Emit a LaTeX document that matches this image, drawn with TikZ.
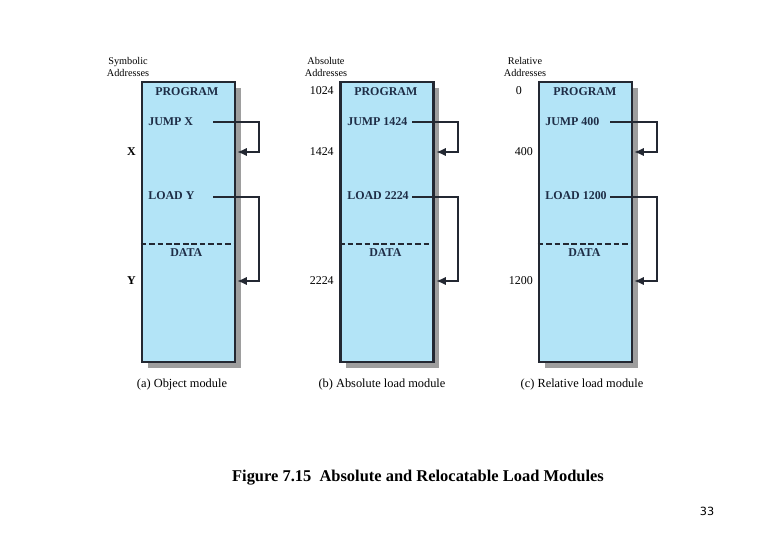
\documentclass[tikz,border=0pt]{standalone}
\usepackage{fontspec}
\setmainfont{Liberation Serif}
\newfontfamily\pagefont{DejaVu Sans}
\usetikzlibrary{shadows,arrows.meta}
\definecolor{modfill}{RGB}{179,228,247}
\definecolor{modline}{RGB}{35,40,50}
\definecolor{modtext}{RGB}{30,45,70}
\begin{document}
\begin{tikzpicture}[x=0.025cm,y=-0.025cm]
        \tikzstyle{module}=[draw=modline, line width=1.8pt, fill=modfill, minimum width=2.325cm, minimum height=7cm, inner sep=0pt,
            drop shadow={opacity=1, fill=black!38, shadow xshift=0.14cm, shadow yshift=-0.14cm}]
        \tikzstyle{instr}=[anchor=west, inner sep=0pt, text=modtext, font=\fontsize{8.5}{10}\selectfont\bfseries]
        \tikzstyle{addr}=[anchor=east, inner sep=0pt, font=\fontsize{8.5}{10}\selectfont]
        \tikzstyle{head}=[align=center, inner sep=0pt, font=\fontsize{7.3}{8}\selectfont]
        \tikzstyle{capt}=[inner sep=0pt, font=\fontsize{8.8}{10}\selectfont]
        \tikzstyle{jump}=[line width=1.4pt, draw=modline, -{Latex[length=7pt,width=6pt]}]
        \tikzstyle{split}=[dash pattern=on 4pt off 2pt, line width=1.1pt, draw=modline]

        \useasboundingbox (0,0) rectangle (780,540);

        % (a) object module
        \node[head] (ha) at (128,67) {Symbolic\\Addresses};
        \node[module] (ma) at (188.5,222) {};
        \node[instr] (pa) at (155,92) {PROGRAM};
        \node[instr] (ja) at (148,122) {JUMP X};
        \node[instr] (la) at (148,196) {LOAD Y};
        \node[instr] (da) at (170,253) {DATA};
        \node[addr, font=\fontsize{8.5}{10}\selectfont\bfseries] (xa) at (136,152) {X};
        \node[addr, font=\fontsize{8.5}{10}\selectfont\bfseries] (ya) at (136,281) {Y};
        \node[capt] (ca) at (182,385) {(a) Object module};
        \coordinate (sja) at (213,122);
        \coordinate (rja) at (259,152);
        \coordinate (tja) at (237,152);
        \coordinate (sla) at (213,197);
        \coordinate (rla) at (259,281);
        \coordinate (tla) at (237,281);
        \draw[jump] (sja) -| (rja) -- (tja);
        \draw[jump] (sla) -| (rla) -- (tla);
        \draw[split] (ma.west |- 0,244) -- (ma.east |- 0,244);

        % (b) absolute load module
        \node[head] (hb) at (326,67) {Absolute\\Addresses};
        \node[module] (mb) at (387,222) {};
        \node[instr] (pb) at (354,92) {PROGRAM};
        \node[instr] (jb) at (347,122) {JUMP 1424};
        \node[instr] (lb) at (347,196) {LOAD 2224};
        \node[instr] (db) at (369,253) {DATA};
        \node[addr] (ab) at (334,91) {1024};
        \node[addr] (xb) at (334,152) {1424};
        \node[addr] (yb) at (334,281) {2224};
        \node[capt] (cb) at (382,385) {(b) Absolute load module};
        \coordinate (sjb) at (412,122);
        \coordinate (rjb) at (458,152);
        \coordinate (tjb) at (436,152);
        \coordinate (slb) at (412,197);
        \coordinate (rlb) at (458,281);
        \coordinate (tlb) at (436,281);
        \draw[jump] (sjb) -| (rjb) -- (tjb);
        \draw[jump] (slb) -| (rlb) -- (tlb);
        \draw[split] (mb.west |- 0,244) -- (mb.east |- 0,244);

        % (c) relative load module
        \node[head] (hc) at (525,67) {Relative\\Addresses};
        \node[module] (mc) at (585.5,222) {};
        \node[instr] (pc) at (553,92) {PROGRAM};
        \node[instr] (jc) at (545,122) {JUMP 400};
        \node[instr] (lc) at (545,196) {LOAD 1200};
        \node[instr] (dc) at (568,253) {DATA};
        \node[addr] (ac) at (522,91) {0};
        \node[addr] (xc) at (533,152) {400};
        \node[addr] (yc) at (533,281) {1200};
        \node[capt] (cc) at (582,385) {(c) Relative load module};
        \coordinate (sjc) at (610,122);
        \coordinate (rjc) at (657,152);
        \coordinate (tjc) at (634,152);
        \coordinate (slc) at (610,197);
        \coordinate (rlc) at (657,281);
        \coordinate (tlc) at (634,281);
        \draw[jump] (sjc) -| (rjc) -- (tjc);
        \draw[jump] (slc) -| (rlc) -- (tlc);
        \draw[split] (mc.west |- 0,244) -- (mc.east |- 0,244);

        \node[inner sep=0pt, font=\fontsize{11.7}{13}\selectfont\bfseries] (title) at (418,478) {Figure 7.15\enspace Absolute and Relocatable Load Modules};
        \node[inner sep=0pt, font=\pagefont\fontsize{8}{10}\selectfont] (page) at (707,511) {33};
    \end{tikzpicture}
\end{document}
